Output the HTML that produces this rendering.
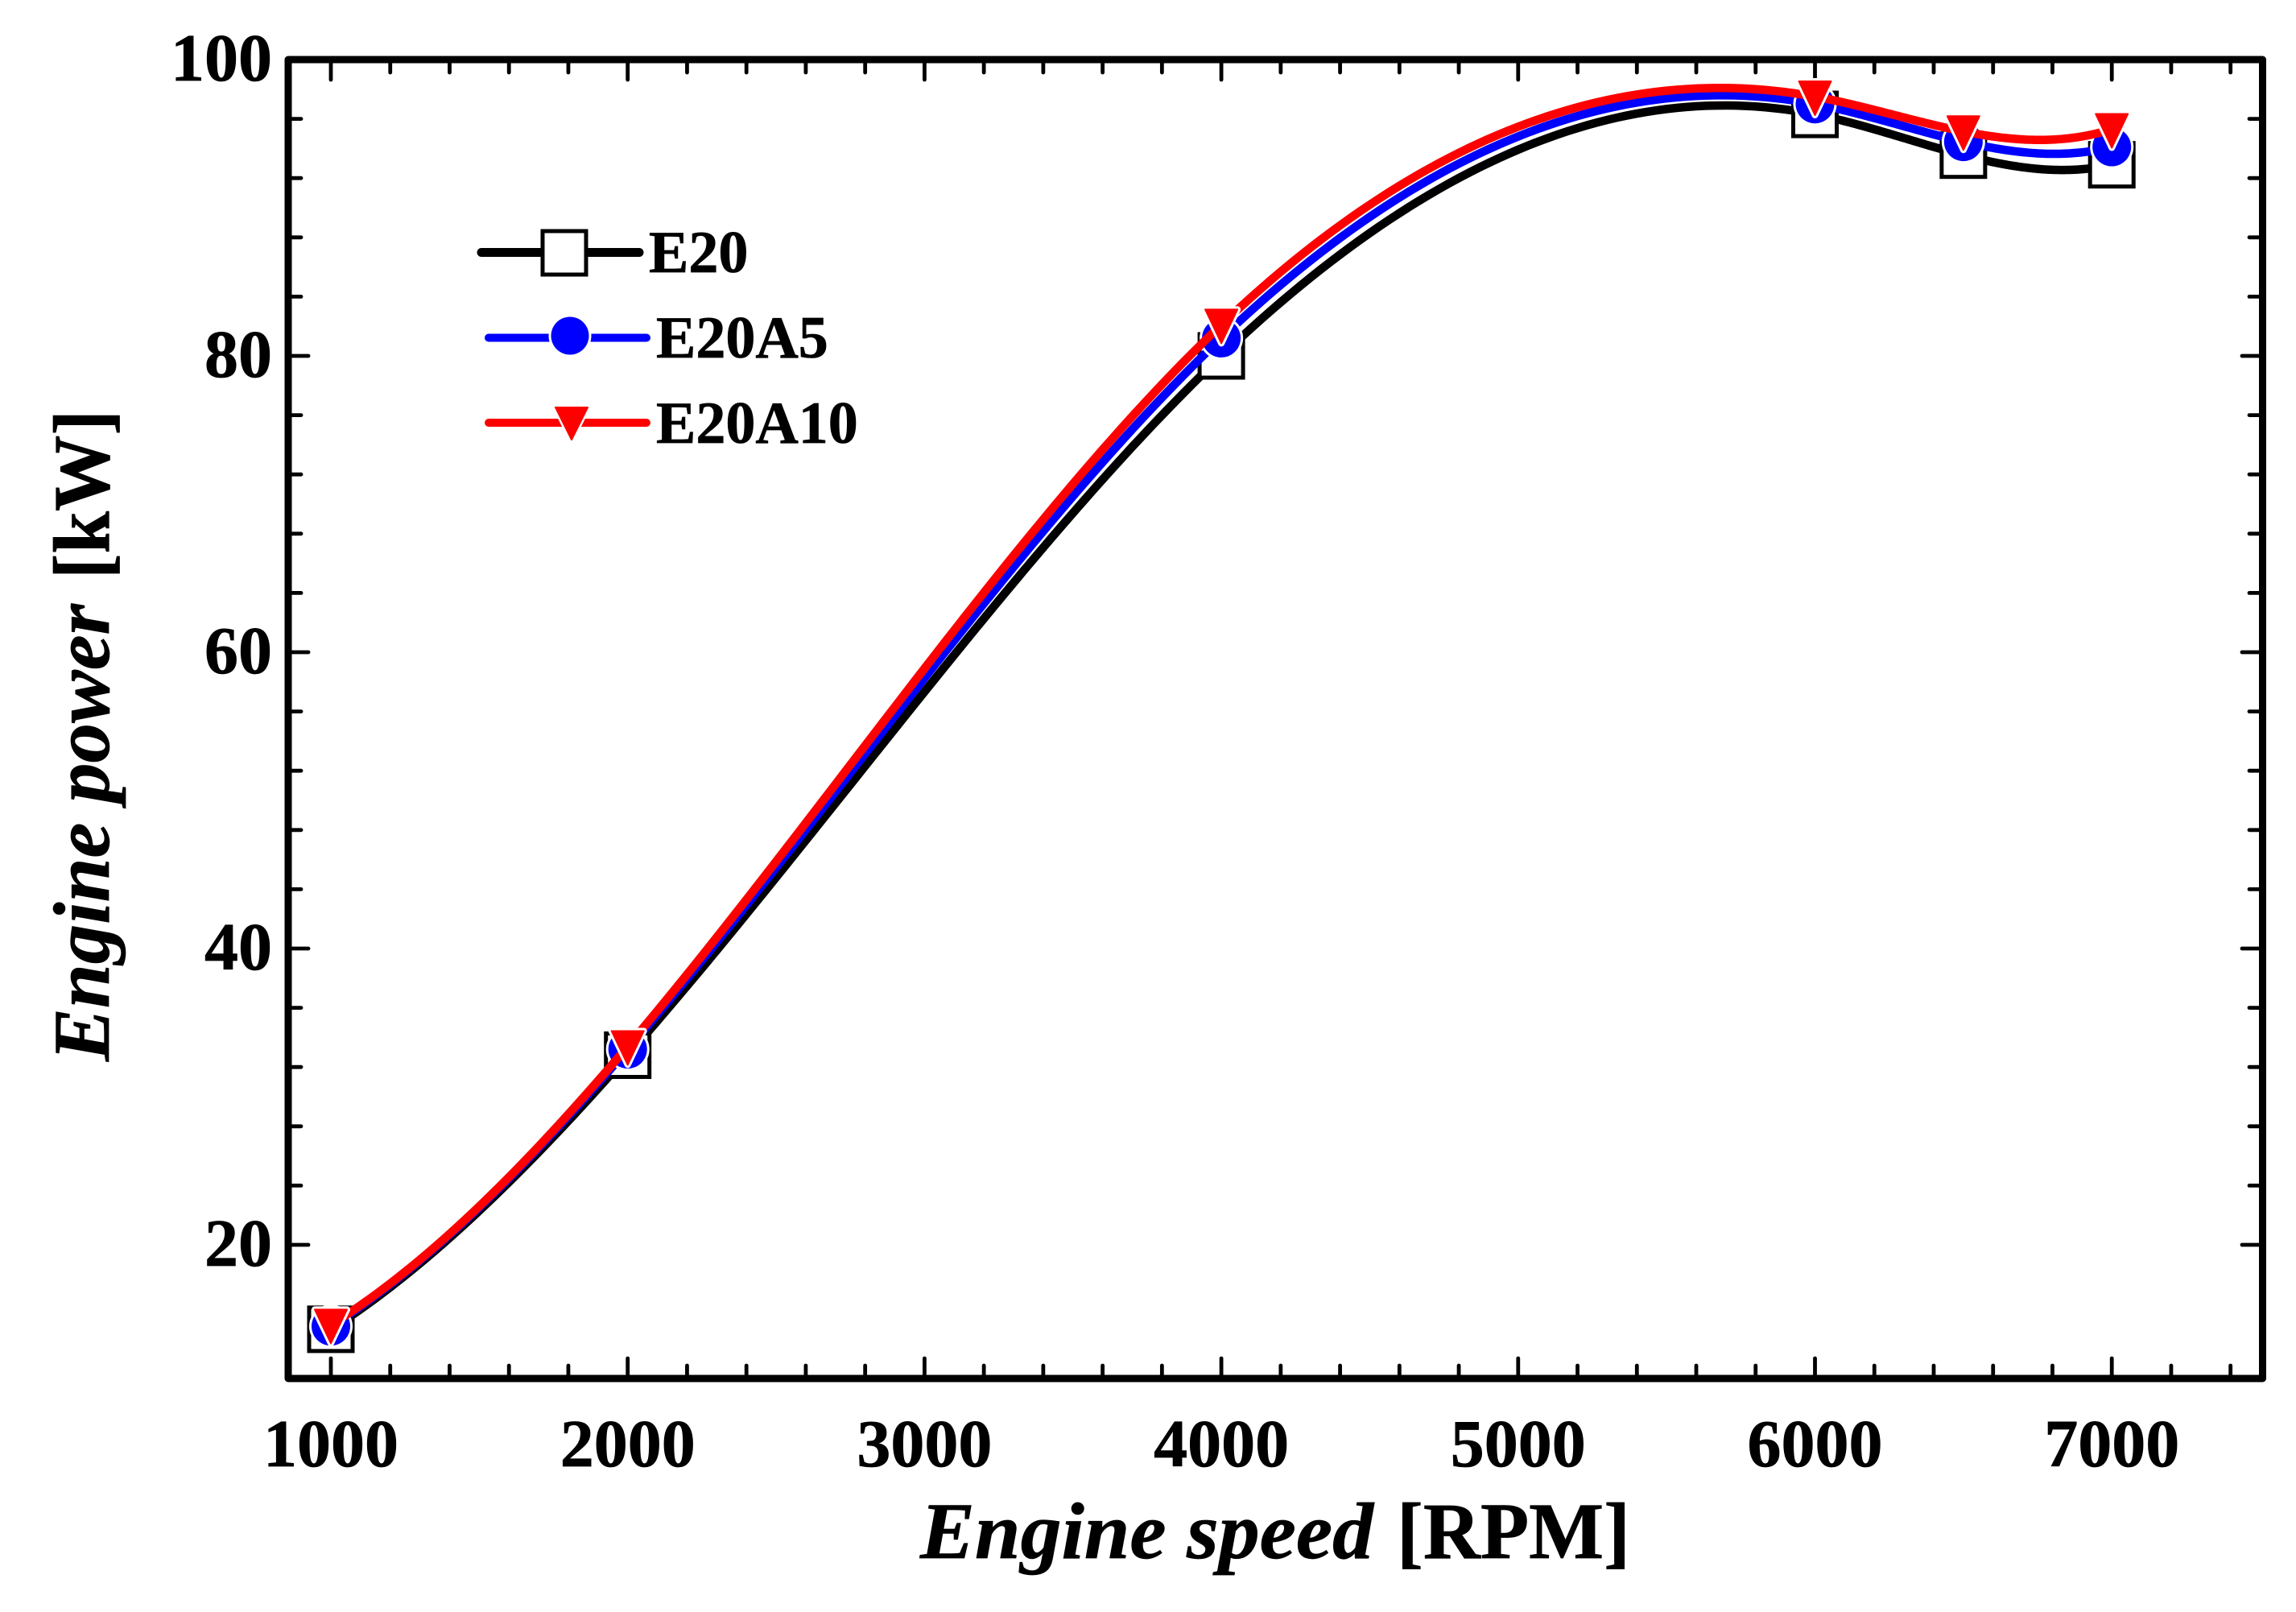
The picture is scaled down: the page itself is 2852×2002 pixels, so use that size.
<!DOCTYPE html>
<html lang="en">
<head>
<meta charset="utf-8">
<title>Engine power vs engine speed</title>
<style>
html,body{margin:0;padding:0;background:#fff;}
svg{display:block;}
text{font-family:"Liberation Serif",serif;fill:#000;font-weight:bold;stroke:#000;stroke-width:0.7px;}
</style>
</head>
<body>
<svg id="chart" xmlns="http://www.w3.org/2000/svg" width="2852" height="2002" viewBox="0 0 2852 2002">
  <rect x="0" y="0" width="2852" height="2002" fill="#fff"/>
  <g id="ticks"></g>
  <g id="tick-labels"></g>
  <g id="series"></g>
  <rect x="358" y="74" width="2452.5" height="1638" fill="none" stroke="#000" stroke-width="9" stroke-linejoin="round"/>

  <g>
    <text x="1143" y="1935" font-size="100" font-style="italic" textLength="563" lengthAdjust="spacingAndGlyphs">Engine speed</text>
    <text x="1735" y="1935" font-size="100" textLength="290" lengthAdjust="spacingAndGlyphs">[RPM]</text>
  </g>
  <g transform="translate(135 0) rotate(-90)">
    <text x="-1318" y="0" font-size="100" font-style="italic" textLength="568" lengthAdjust="spacingAndGlyphs">Engine power</text>
    <text x="-719" y="0" font-size="100" textLength="210" lengthAdjust="spacingAndGlyphs">[kW]</text>
  </g>

  <g>
    <g>
      <line x1="598" y1="313.5" x2="794" y2="313.5" stroke="#000" stroke-width="11" stroke-linecap="round"/>
      <rect x="674" y="287" width="54" height="54" fill="#fff" stroke="#000" stroke-width="5"/>
      <text x="806" y="338" font-size="74">E20</text>
    </g>
    <g>
      <line x1="607" y1="419.5" x2="803" y2="419.5" stroke="#00f" stroke-width="10" stroke-linecap="round"/>
      <circle cx="708" cy="417" r="26.5" fill="#fff"/>
      <circle cx="708" cy="417" r="23.5" fill="#00f"/>
      <text x="815" y="444" font-size="74">E20A5</text>
    </g>
    <g>
      <line x1="607" y1="525" x2="803" y2="525" stroke="#f00" stroke-width="10" stroke-linecap="round"/>
      <polygon points="689,505 731,505 710,547" fill="#fff" stroke="#fff" stroke-width="6" stroke-linejoin="round"/>
      <polygon points="690,506 730,506 710,546" fill="#f00" stroke="#f00" stroke-width="2" stroke-linejoin="round"/>
      <text x="815" y="550" font-size="74">E20A10</text>
    </g>
  </g>
</svg>
<script>
// Chart data
const engineSpeeds = [1000, 2000, 4000, 6000, 6500, 7000];
const powerE20 = [14.3, 32.8, 80.0, 96.3, 93.55, 92.9];
const powerE20A5 = [14.5, 33.2, 81.2, 97.0, 94.45, 94.1];
const powerE20A10 = [14.6, 33.4, 82.1, 97.5, 95.15, 95.3];
const xMajorTicks = [1000, 2000, 3000, 4000, 5000, 6000, 7000];
const xMinorTicks = [1200, 1400, 1600, 1800, 2200, 2400, 2600, 2800, 3200, 3400, 3600, 3800, 4200, 4400, 4600, 4800, 5200, 5400, 5600, 5800, 6200, 6400, 6600, 6800, 7200, 7400];
const yMajorTicks = [20, 40, 60, 80];
const yMinorTicks = [24, 28, 32, 36, 44, 48, 52, 56, 64, 68, 72, 76, 84, 88, 92, 96];
const xTickLabels = ["1000", "2000", "3000", "4000", "5000", "6000", "7000"];
const yTickLabels = ["20", "40", "60", "80", "100"];
const yTickLabelValues = [20, 40, 60, 80, 100];

// Axis functions
function xScale(v) { return 411 + (v - 1000) * 0.3687; }
function yScale(v) { return 74 + (100 - v) * 18.4; }

const NS = 'http://www.w3.org/2000/svg';
function svgEl(tag, attrs, parent) {
  const el = document.createElementNS(NS, tag);
  for (const k in attrs) el.setAttribute(k, attrs[k]);
  parent.appendChild(el);
  return el;
}

// Dense linear solver used by the spline
function solve(A, r) {
  const n = r.length;
  for (let i = 0; i < n; i++) {
    let p = i;
    for (let k = i + 1; k < n; k++) if (Math.abs(A[k][i]) > Math.abs(A[p][i])) p = k;
    [A[i], A[p]] = [A[p], A[i]];
    [r[i], r[p]] = [r[p], r[i]];
    for (let k = i + 1; k < n; k++) {
      const w = A[k][i] / A[i][i];
      for (let j = i; j < n; j++) A[k][j] -= w * A[i][j];
      r[k] -= w * r[i];
    }
  }
  const x = new Array(n).fill(0);
  for (let i = n - 1; i >= 0; i--) {
    let s = r[i];
    for (let j = i + 1; j < n; j++) s -= A[i][j] * x[j];
    x[i] = s / A[i][i];
  }
  return x;
}

// Not-a-knot cubic spline through the data points
function splinePath(xs, ys) {
  const n = xs.length;
  const h = [];
  for (let i = 0; i < n - 1; i++) h.push(xs[i + 1] - xs[i]);
  const A = [];
  const r = [];
  for (let i = 0; i < n; i++) { A.push(new Array(n).fill(0)); r.push(0); }
  A[0][0] = h[1]; A[0][1] = -(h[0] + h[1]); A[0][2] = h[0];
  A[n - 1][n - 3] = h[n - 2]; A[n - 1][n - 2] = -(h[n - 3] + h[n - 2]); A[n - 1][n - 1] = h[n - 3];
  for (let i = 1; i < n - 1; i++) {
    A[i][i - 1] = h[i - 1];
    A[i][i] = 2 * (h[i - 1] + h[i]);
    A[i][i + 1] = h[i];
    r[i] = 6 * ((ys[i + 1] - ys[i]) / h[i] - (ys[i] - ys[i - 1]) / h[i - 1]);
  }
  const m = solve(A, r);
  let path = '';
  for (let i = 0; i < n - 1; i++) {
    const steps = 60;
    for (let s = 0; s <= steps; s++) {
      if (i > 0 && s === 0) continue;
      const t = s / steps;
      const u = 1 - t;
      const x = xs[i] + t * h[i];
      const y = u * ys[i] + t * ys[i + 1] +
        ((u * u * u - u) * m[i] + (t * t * t - t) * m[i + 1]) * h[i] * h[i] / 6;
      path += (path ? 'L' : 'M') + xScale(x).toFixed(2) + ' ' + yScale(y).toFixed(2);
    }
  }
  return path;
}

// Ticks
const tickGroup = document.getElementById('ticks');
const FRAME_L = 362, FRAME_R = 2806, FRAME_T = 78, FRAME_B = 1708;
const MAJOR_LEN = 21, MINOR_LEN = 12, TICK_W = 4.8;

function drawXTick(v, len) {
  const x = xScale(v);
  const bottom = svgEl('line', {x1: x, x2: x, y1: FRAME_B, y2: FRAME_B - len, stroke: '#000', 'stroke-width': TICK_W, 'stroke-linecap': 'round'}, tickGroup);
  
  
  const top = svgEl('line', {x1: x, x2: x, y1: FRAME_T, y2: FRAME_T + len, stroke: '#000', 'stroke-width': TICK_W, 'stroke-linecap': 'round'}, tickGroup);
  
  
}
function drawYTick(v, len) {
  const y = yScale(v);
  const left = svgEl('line', {x1: FRAME_L, x2: FRAME_L + len, y1: y, y2: y, stroke: '#000', 'stroke-width': TICK_W, 'stroke-linecap': 'round'}, tickGroup);
  
  
  const right = svgEl('line', {x1: FRAME_R, x2: FRAME_R - len, y1: y, y2: y, stroke: '#000', 'stroke-width': TICK_W, 'stroke-linecap': 'round'}, tickGroup);
  
  
}
xMajorTicks.forEach(v => drawXTick(v, MAJOR_LEN));
xMinorTicks.forEach(v => drawXTick(v, MINOR_LEN));
yMajorTicks.forEach(v => drawYTick(v, MAJOR_LEN));
yMinorTicks.forEach(v => drawYTick(v, MINOR_LEN));

// Tick labels
const labelGroup = document.getElementById('tick-labels');
xTickLabels.forEach((label, i) => {
  const t = svgEl('text', {x: xScale(xMajorTicks[i]), y: 1821, 'font-size': 84, 'text-anchor': 'middle'}, labelGroup);
  
  
  t.textContent = label;
});
yTickLabels.forEach((label, i) => {
  const t = svgEl('text', {x: 338, y: yScale(yTickLabelValues[i]) + 26, 'font-size': 84, 'text-anchor': 'end'}, labelGroup);
  
  
  t.textContent = label;
});

// Series
const seriesGroup = document.getElementById('series');

function drawLine(values, color, name) {
  const p = svgEl('path', {d: splinePath(engineSpeeds, values), fill: 'none', stroke: color, 'stroke-width': 10.5, 'stroke-linejoin': 'round'}, seriesGroup);
  
  
}

// E20: line with open squares
drawLine(powerE20, '#000', 'line-e20');
powerE20.forEach((v, i) => {
  const cx = xScale(engineSpeeds[i]), cy = yScale(v);
  const m = svgEl('rect', {x: cx - 27, y: cy - 27, width: 54, height: 54, fill: '#fff', stroke: '#000', 'stroke-width': 5}, seriesGroup);
  
  
});

// E20A5: line with filled circles
drawLine(powerE20A5, '#00f', 'line-e20a5');
powerE20A5.forEach((v, i) => {
  const cx = xScale(engineSpeeds[i]), cy = yScale(v);
  const halo = svgEl('circle', {cx: cx, cy: cy, r: 27, fill: '#fff'}, seriesGroup);
  
  
  const m = svgEl('circle', {cx: cx, cy: cy, r: 24, fill: '#00f'}, seriesGroup);
  
  
});

// E20A10: line with filled down triangles
drawLine(powerE20A10, '#f00', 'line-e20a10');
powerE20A10.forEach((v, i) => {
  const cx = xScale(engineSpeeds[i]), cy = yScale(v);
  const pts = [cx - 20, cy - 19, cx + 20, cy - 19, cx, cy + 23].join(' ');
  const halo = svgEl('polygon', {points: pts, fill: '#fff', stroke: '#fff', 'stroke-width': 8, 'stroke-linejoin': 'round'}, seriesGroup);
  
  
  const m = svgEl('polygon', {points: pts, fill: '#f00', stroke: '#f00', 'stroke-width': 2, 'stroke-linejoin': 'round'}, seriesGroup);
  
  
});
</script>
</body>
</html>
